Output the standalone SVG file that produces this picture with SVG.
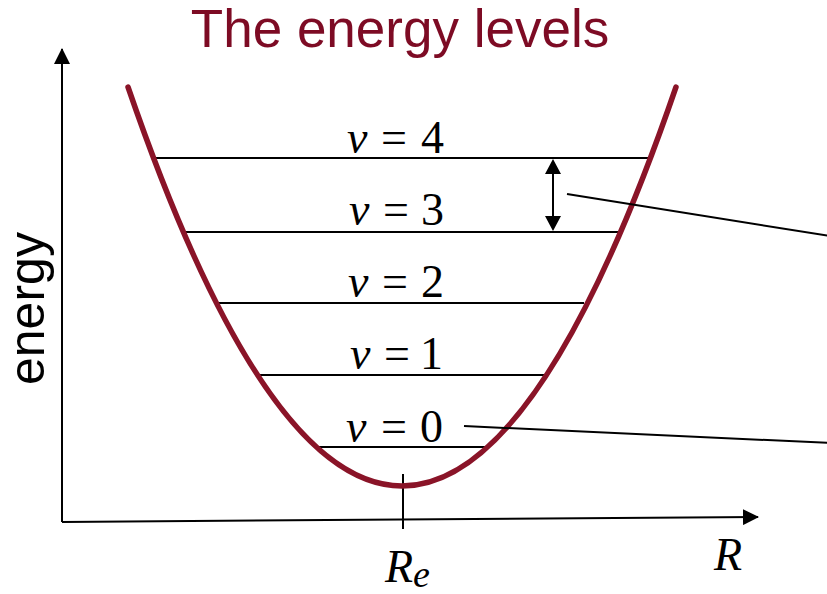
<svg xmlns="http://www.w3.org/2000/svg" width="827" height="594" viewBox="0 0 827 594">
<style>
.lvl{stroke:#000;stroke-width:2;fill:none}
.ax{stroke:#000;stroke-width:2;fill:none}
.lab{font-family:"Liberation Serif",serif;font-size:46px;fill:#000}
.it{font-style:italic}
.sans{font-family:"Liberation Sans",Arial,sans-serif}
</style>
<defs>
<marker id="ah" viewBox="0 0 16 16" refX="15" refY="8" markerWidth="16" markerHeight="16" markerUnits="userSpaceOnUse" orient="auto-start-reverse">
<path d="M0,0 L16,8 L0,16 Z" fill="#000"/>
</marker>
</defs>
<rect width="827" height="594" fill="#fff"/>
<g id="title"><text x="400" y="47" text-anchor="middle" class="sans" font-size="53" fill="#7d0b24">The energy levels</text></g>
<g id="axes">
<line class="ax" x1="62" y1="522" x2="62" y2="49" marker-end="url(#ah)"/>
<line class="ax" x1="62" y1="522" x2="758" y2="517" marker-end="url(#ah)"/>
<line class="ax" x1="403" y1="474" x2="403" y2="529"/>
<text class="sans" font-size="50" fill="#000" transform="translate(44,385) rotate(-90)">energy</text>
<text class="lab it" x="385" y="582" font-size="62">R<tspan font-size="38" dy="5">e</tspan></text>
<text class="lab it" x="714" y="570" font-size="62">R</text>
</g>
<g id="levels">
<line class="lvl" x1="155" y1="158" x2="651" y2="158"/>
<line class="lvl" x1="184" y1="232" x2="620" y2="232"/>
<line class="lvl" x1="219" y1="303" x2="584" y2="303"/>
<line class="lvl" x1="259" y1="375" x2="545" y2="375"/>
<line class="lvl" x1="317" y1="447" x2="485" y2="447"/>
</g>
<g id="labels">
<text class="lab" y="153"><tspan class="it" x="347">v</tspan><tspan x="381">=</tspan><tspan x="421">4</tspan></text>
<text class="lab" y="225"><tspan class="it" x="349">v</tspan><tspan x="383">=</tspan><tspan x="421">3</tspan></text>
<text class="lab" y="297"><tspan class="it" x="348">v</tspan><tspan x="382">=</tspan><tspan x="421">2</tspan></text>
<text class="lab" y="369"><tspan class="it" x="350">v</tspan><tspan x="384">=</tspan><tspan x="420">1</tspan></text>
<text class="lab" y="442"><tspan class="it" x="346">v</tspan><tspan x="381">=</tspan><tspan x="420">0</tspan></text>
</g>
<g id="curve"><path d="M128,87 Q402,885 676,87" fill="none" stroke="#8a1428" stroke-width="5.5" stroke-linecap="round"/></g>
<g id="connectors">
<line class="ax" x1="553" y1="174" x2="553" y2="216"/>
<path d="M553,159 L545,174 L561,174 Z M553,231 L545,216 L561,216 Z" fill="#000"/>
<line class="ax" x1="567" y1="194" x2="830" y2="236"/>
<line class="ax" x1="464" y1="426" x2="830" y2="443"/>
</g>
</svg>
